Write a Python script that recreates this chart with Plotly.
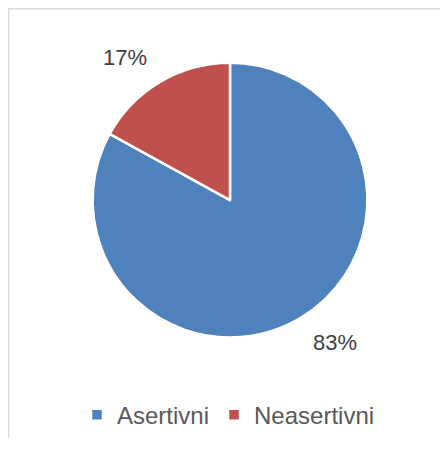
import math
import plotly.graph_objects as go

labels = ["Asertivni", "Neasertivni"]
values = [83, 17]
colors = ["#4F81BD", "#C0504D"]

# the page body has an 8px margin, so the figure is drawn 8px in from the window edge
OFF = 8
W, H = 432, 430
# pie centre and radius in window pixels
CX, CY, R = 230 - OFF, 201 - OFF, 138
LABEL_R = 160

fig = go.Figure(go.Pie(
    labels=labels, values=values, sort=False, direction="clockwise",
    rotation=0, textinfo="none", hoverinfo="label+percent",
    marker={"colors": colors, "line": {"color": "white", "width": 2.5}},
    domain={"x": [(CX - R) / W, (CX + R) / W],
            "y": [(H - CY - R) / H, (H - CY + R) / H]},
))

# percent labels placed outside each slice, anchored by the corner nearest the pie
total = sum(values)
start = 0.0
for v in values:
    mid = math.radians((start + v / 2) / total * 360)
    start += v
    px = CX + LABEL_R * math.sin(mid)
    py = CY - LABEL_R * math.cos(mid)
    upper = math.cos(mid) > 0
    fig.add_annotation(
        x=px / W, y=1 - py / H, xref="paper", yref="paper",
        text="{}%".format(round(v / total * 100)), showarrow=False,
        xanchor="left" if math.sin(mid) > 0 else "right",
        yanchor="bottom" if upper else "top",
        yshift=-9 if upper else 9,
        font={"size": 22, "color": "#404040"},
    )

# chart area border (only left and top edges fall inside the window)
fig.add_shape(type="path", xref="paper", yref="paper",
              path="M 0.001,-0.2 L 0.001,0.998 L 1.2,0.998",
              line={"color": "#D9D9D9", "width": 1.5})

fig.update_layout(
    width=W, height=H,
    margin={"l": 0, "r": 0, "t": 0, "b": 0},
    paper_bgcolor="white", plot_bgcolor="white",
    font={"family": "Liberation Sans, Arial, sans-serif"},
    showlegend=True,
    legend={"orientation": "h", "x": (77 - OFF) / W, "xanchor": "left",
            "y": 1 - (417 - OFF) / H, "yanchor": "middle",
            "font": {"size": 24, "color": "#595959"},
            "itemwidth": 30, "traceorder": "normal"},
)

fig.write_html("out.html")
